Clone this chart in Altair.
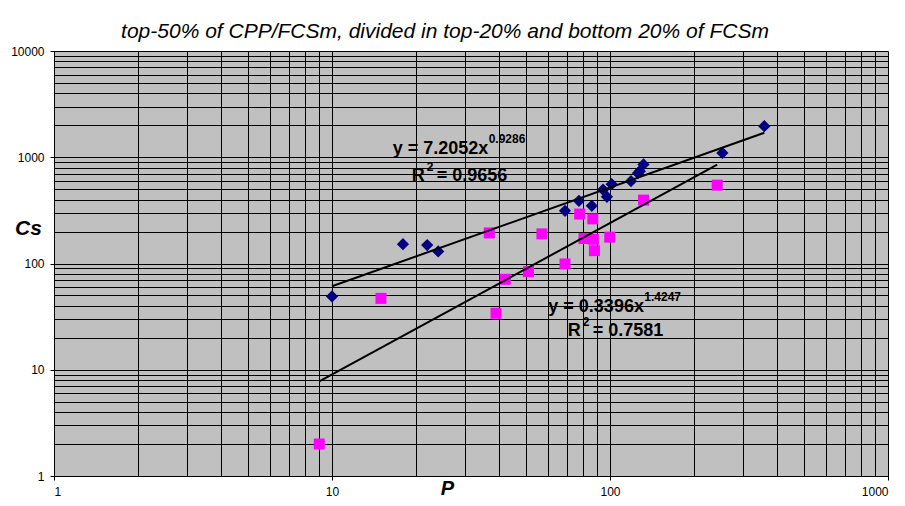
import altair as alt
import pandas as pd

# ---- data ----
blue_p = [10, 18.0, 22.0, 24.1, 68.9, 77.3, 86, 94.4, 97.5, 101.4, 119, 126, 128, 132, 253.6, 359]
blue_cs = [49, 152, 149, 130, 313, 389, 349, 495, 424, 558, 596, 708, 740, 855, 1099, 1963]

pink_p = [9, 15.0, 36.8, 38.9, 42, 50.9, 56.9, 68.9, 77.8, 80.6, 86.7, 87.1, 87.9, 99.8, 132, 243]
pink_cs = [2, 47, 194, 34, 71, 84, 190, 99, 292, 172, 263, 169, 132, 177, 395, 546]

trend_series = ["top", "bottom"]
trend_a = [7.2052, 0.3396]
trend_b = [0.9286, 1.4247]
trend_xmin = [10, 9]
trend_xmax = [359, 243]

eq_main = ["y = 7.2052x", "y = 0.3396x"]
eq_exp = ["0.9286", "1.4247"]
eq_r2 = ["= 0.9656", "= 0.7581"]
eq_main_x = [16.53, 60.0]
eq_main_y = [1063, 34.7]
eq_r_x = [19.35, 70.4]
eq_r_y = [596, 20.75]

x_ticks = [1, 10, 100, 1000]
y_ticks = [1, 10, 100, 1000, 10000]
x_grid = [m * d for d in [1, 10, 100] for m in range(1, 10)] + [1000]
y_grid = [m * d for d in [1, 10, 100, 1000] for m in range(1, 10)] + [10000]

FONT = "Liberation Sans"

pts = pd.DataFrame(
    {"P": blue_p + pink_p,
     "Cs": blue_cs + pink_cs,
     "group": ["top"] * len(blue_p) + ["bottom"] * len(pink_p)}
)

rows = []
for s, a, b, x0, x1 in zip(trend_series, trend_a, trend_b, trend_xmin, trend_xmax):
    rows.append({"series": s, "a": a, "b": b, "P": x0})
    rows.append({"series": s, "a": a, "b": b, "P": x1})
trend = pd.DataFrame(rows)

eq = pd.DataFrame({"main": eq_main, "exp": eq_exp, "r2": eq_r2,
                   "mx": eq_main_x, "my": eq_main_y, "rx": eq_r_x, "ry": eq_r_y})

xdec = "indexof([1,10,100,1000,10000], datum.value) >= 0"

xscale = alt.Scale(type="log", domain=[1, 1000], nice=False)
yscale = alt.Scale(type="log", domain=[1, 10000], nice=False)

xaxis = alt.Axis(
    values=x_grid, grid=True, gridColor="black", gridWidth=1, gridOpacity=1,
    labelExpr=f"{xdec} ? '' + datum.value : ''", labelOverlap=False,
    labelFont=FONT, labelFontSize=12, labelColor="black", labelPadding=6,
    tickSize=4, tickColor="black",
    tickOpacity={"condition": {"test": xdec, "value": 1}, "value": 0},
    domainColor="black", labelFlush=True,
    title="P", titleFont=FONT, titleFontSize=20, titleFontWeight="bold",
    titleFontStyle="italic", titleColor="black", titleX=393, titleY=18,
    titleBaseline="alphabetic", titleAnchor="start", titleAlign="center",
)
yaxis = alt.Axis(
    values=y_grid, grid=True, gridColor="black", gridWidth=1, gridOpacity=1,
    labelExpr=f"{xdec} ? '' + datum.value : ''", labelOverlap=False,
    labelFont=FONT, labelFontSize=12, labelColor="black", labelPadding=6,
    tickSize=4, tickColor="black",
    tickOpacity={"condition": {"test": xdec, "value": 1}, "value": 0},
    domainColor="black",
    title="Cs", titleFont=FONT, titleFontSize=21, titleFontWeight="bold",
    titleFontStyle="italic", titleColor="black", titleAngle=0,
    titleX=-26, titleY=183, titleAlign="center", titleBaseline="alphabetic",
    titleAnchor="start",
)

base_x = alt.X("P:Q", scale=xscale, axis=xaxis)
base_y = alt.Y("Cs:Q", scale=yscale, axis=yaxis)

points = alt.Chart(pts).mark_point(filled=True, opacity=1, strokeWidth=0).encode(
    x=base_x, y=base_y,
    shape=alt.Shape("group:N", scale=alt.Scale(domain=["top", "bottom"], range=["diamond", "square"]), legend=None),
    color=alt.Color("group:N", scale=alt.Scale(domain=["top", "bottom"], range=["#000080", "#FF00FF"]), legend=None),
    size=alt.Size("group:N", scale=alt.Scale(domain=["top", "bottom"], range=[150, 121]), legend=None),
)

lines = alt.Chart(trend).transform_calculate(
    Cs="datum.a * pow(datum.P, datum.b)"
).mark_line(color="black", strokeWidth=2).encode(
    x=alt.X("P:Q", scale=xscale), y=alt.Y("Cs:Q", scale=yscale), detail="series:N"
)

tfont = dict(font=FONT, fontWeight="bold", color="black", align="left", baseline="alphabetic")
t_main = alt.Chart(eq).mark_text(fontSize=18, **tfont).encode(
    x=alt.X("mx:Q", scale=xscale), y=alt.Y("my:Q", scale=yscale), text="main:N")
t_exp = alt.Chart(eq).mark_text(fontSize=12, dx=96, dy=-11, **tfont).encode(
    x=alt.X("mx:Q", scale=xscale), y=alt.Y("my:Q", scale=yscale), text="exp:N")
t_r = alt.Chart(eq).mark_text(fontSize=18, **tfont).encode(
    x=alt.X("rx:Q", scale=xscale), y=alt.Y("ry:Q", scale=yscale), text=alt.value("R"))
t_r2sup = alt.Chart(eq).mark_text(fontSize=12, dx=15, dy=-10, **tfont).encode(
    x=alt.X("rx:Q", scale=xscale), y=alt.Y("ry:Q", scale=yscale), text=alt.value("2"))
t_r2 = alt.Chart(eq).mark_text(fontSize=18, dx=25, **tfont).encode(
    x=alt.X("rx:Q", scale=xscale), y=alt.Y("ry:Q", scale=yscale), text="r2:N")

chart = alt.layer(points, lines, t_main, t_exp, t_r, t_r2sup, t_r2).properties(
    width=834, height=425,
    autosize=alt.AutoSizeParams(type="none"),
    padding={"left": 46, "top": 43, "right": 9, "bottom": 22},
    background="white",
    title=alt.TitleParams(
        "top-50% of CPP/FCSm, divided in top-20% and bottom 20% of FCSm",
        font=FONT, fontSize=21, fontStyle="italic", fontWeight="normal",
        color="black", anchor="middle", dx=-26, offset=3,
    ),
).configure_view(fill="#C0C0C0", stroke=None)

chart.save("out.html", embed_options={"renderer": "svg", "actions": False})
